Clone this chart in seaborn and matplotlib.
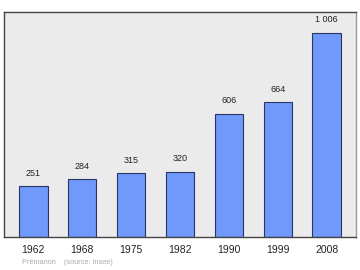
import matplotlib
matplotlib.use("Agg")
import matplotlib.pyplot as plt
import seaborn as sns
import pandas as pd

years = ["1962", "1968", "1975", "1982", "1990", "1999", "2008"]
population = [251, 284, 315, 320, 606, 664, 1006]
value_labels = ["251", "284", "315", "320", "606", "664", "1 006"]
footer = "Prémanon    (source: Insee)"

sns.set_theme(style="white")
plt.rcParams['font.family'] = ['Liberation Sans', 'DejaVu Sans']

df = pd.DataFrame({"year": years, "pop": population})

fig = plt.figure(figsize=(3.6, 2.7), dpi=100)
ax = fig.add_axes([4/360, 33/270, 352/360, 225/270])
ax.set_facecolor("#ebebeb")
sns.barplot(data=df, x="year", y="pop", order=years, color="#6f99fb",
            saturation=1, width=0.58, edgecolor="#2a3566", linewidth=0.8, ax=ax)
ax.set_xlim(-0.6, 6.6)
ax.set_ylim(0, 1108)
ax.set_xlabel("")
ax.set_ylabel("")
ax.set_yticks([])
ax.tick_params(axis="x", length=0, labelsize=7.5, pad=6, colors="#222222")
for i, (v, lab) in enumerate(zip(population, value_labels)):
    ax.text(i, v + 42, lab, ha="center", va="bottom", fontsize=6.5, color="#222222")
for side in ["left", "top", "bottom"]:
    ax.spines[side].set_color("#444444")
    ax.spines[side].set_linewidth(1.0)
ax.spines["right"].set_color("#999999")
ax.spines["right"].set_linewidth(1.0)
fig.text(22/360, 1 - 263/270, footer, fontsize=5.3, color="#aaaaaa", va="center", ha="left")
fig.savefig("out.png", dpi=100)
